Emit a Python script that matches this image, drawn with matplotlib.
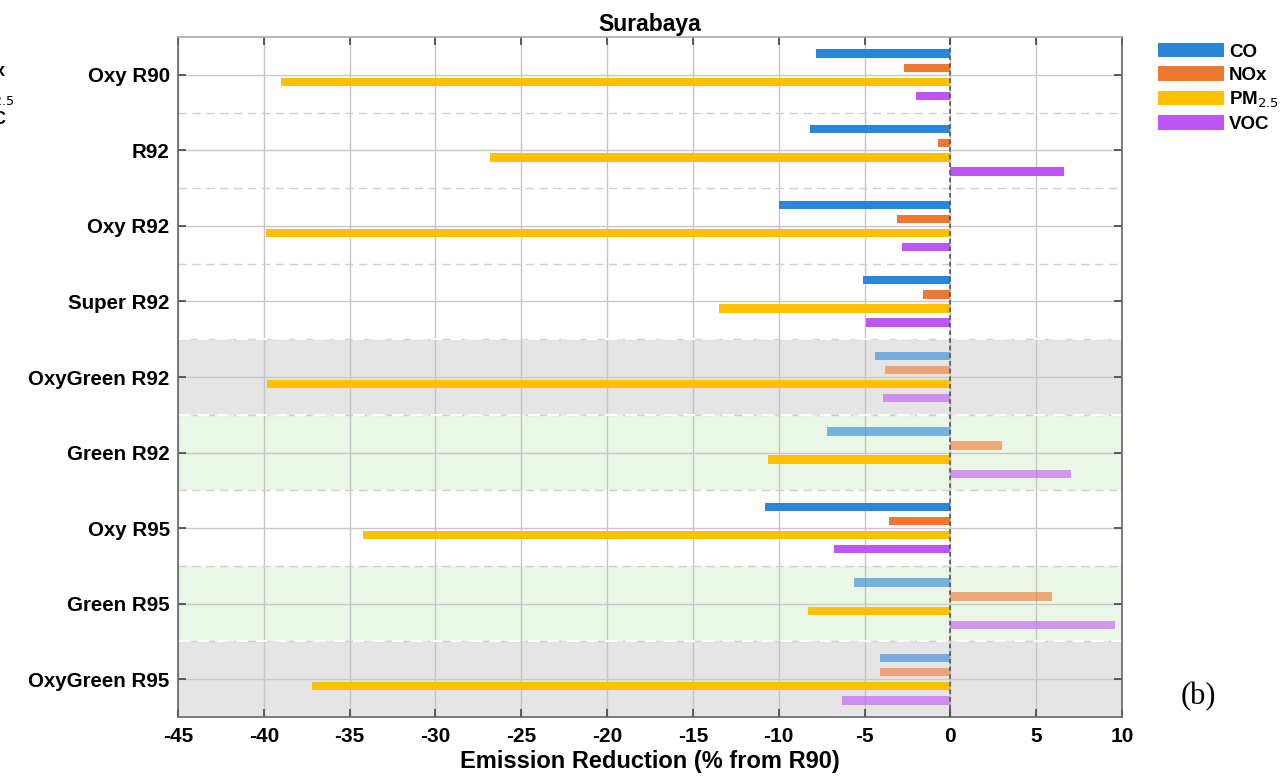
import numpy as np
import matplotlib
matplotlib.use("Agg")
import matplotlib.pyplot as plt
from matplotlib.patches import Patch

# ---------------- data ----------------
categories = ["Oxy R90", "R92", "Oxy R92", "Super R92", "OxyGreen R92",
              "Green R92", "Oxy R95", "Green R95", "OxyGreen R95"]
co   = [-7.8, -8.2, -10.0, -5.1, -4.4, -7.2, -10.8, -5.6, -4.1]
nox  = [-2.7, -0.7, -3.1, -1.6, -3.8, 3.0, -3.6, 5.9, -4.1]
pm25 = [-39.0, -26.8, -39.9, -13.5, -39.8, -10.6, -34.2, -8.3, -37.2]
voc  = [-2.0, 6.6, -2.8, -4.9, -3.9, 7.0, -6.8, 9.6, -6.3]
# row background: "" none, "gray", "green"
row_bg = ["", "", "", "", "gray", "green", "", "green", "gray"]
series_names = ["CO", "NOx", "PM$_{2.5}$", "VOC"]
xticks = [-45, -40, -35, -30, -25, -20, -15, -10, -5, 0, 5, 10]

# ---------------- style ----------------
colors = ["#2a86d8", "#f0782e", "#ffc000", "#bf55f5"]
bg_colors = {"gray": "#e5e5e5", "green": "#eaf6e6"}
offsets = [-0.28, -0.093, 0.093, 0.28]
bar_h = 0.11

W, H = 1284, 776
fig = plt.figure(figsize=(W / 100, H / 100), dpi=100)
ax = fig.add_axes([178 / W, 1 - 717 / H, (1122 - 178) / W, (717 - 37) / H])

n = len(categories)
y = np.arange(n)
ax.set_xlim(-45, 10)
ax.set_ylim(n - 0.5, -0.5)

# backgrounds
for i, b in enumerate(row_bg):
    if b:
        ax.axhspan(i - 0.5, i + 0.5, color=bg_colors[b], zorder=0, lw=0)

# grid
for xv in xticks:
    ax.axvline(xv, color="#c4c4c4", lw=1.0, zorder=1)
for i in range(n):
    ax.axhline(i, color="#c8c8c8", lw=1.0, zorder=1)
for i in range(n - 1):
    ax.axhline(i + 0.5, color="#cfcfcf", lw=1.0, ls=(0, (6, 4)), zorder=1)
# white dashes at gray band edges
for i, b in enumerate(row_bg):
    if b == "gray":
        for e in (i - 0.5, i + 0.5):
            if -0.5 < e < n - 0.5:
                ax.axhline(e, color="white", lw=1.4, ls=(0, (6, 4)), zorder=1.5)

# bars
data = [co, nox, pm25, voc]
for k, (vals, c, off) in enumerate(zip(data, colors, offsets)):
    for i in range(n):
        alpha = 0.6 if (row_bg[i] and k != 2) else 1.0
        ax.barh(y[i] + off, vals[i], height=bar_h, color=c, alpha=alpha,
                edgecolor="none", zorder=3)

# zero line
ax.axvline(0, color="#4a4a4a", lw=1.1, ls=(0, (3, 2)), zorder=4)

# axes styling
ax.set_xticks(xticks)
ax.set_xticklabels([str(t) for t in xticks])
ax.set_yticks(y)
ax.set_yticklabels(categories)
ax.tick_params(axis="both", direction="in", length=6, width=1.2, color="#444444",
               top=True, right=True)
ax.tick_params(axis="y", pad=6)
ax.tick_params(axis="x", pad=7)
for lab in ax.get_yticklabels():
    lab.set_fontfamily("Liberation Sans")
    lab.set_fontweight("bold")
    lab.set_fontsize(14.8)
for lab in ax.get_xticklabels():
    lab.set_fontfamily(["Liberation Sans Narrow", "Liberation Sans"])
    lab.set_fontweight("bold")
    lab.set_fontsize(15)
for sp in ax.spines.values():
    sp.set_color("#666666")
    sp.set_linewidth(1.2)
ax.spines["top"].set_color("#aaaaaa")

ax.set_xlabel("Emission Reduction (% from R90)", fontsize=17, fontweight="bold",
              family=["Liberation Sans Narrow", "Liberation Sans"], labelpad=3)
ax.set_title("Surabaya", fontsize=16.5, fontweight="bold", family="Liberation Sans", pad=4)

# legend
handles = [Patch(facecolor=c, edgecolor="none") for c in colors]
leg = fig.legend(handles, series_names, loc="upper left",
                 bbox_to_anchor=(1141 / W, 1 - 26 / H), frameon=False,
                 handlelength=3.5, handleheight=0.8, handletextpad=0.3,
                 labelspacing=0.3, prop={"family": "Liberation Sans",
                                         "weight": "bold", "size": 13.5})

# panel label
fig.text(1198 / W, 1 - 697 / H, "(b)", family="Liberation Serif", fontsize=22,
         ha="center", va="center")

# clipped fragments of neighbouring panel legend
frag_kw = dict(family="Liberation Sans", fontweight="bold", fontsize=13, ha="right", va="center")
fig.text(6 / W, 1 - 72 / H, "NOx", **frag_kw)
fig.text(14 / W, 1 - 97 / H, "PM$_{2.5}$", **frag_kw)
fig.text(7 / W, 1 - 119 / H, "VOC", **frag_kw)

fig.savefig("out.png", dpi=100)
